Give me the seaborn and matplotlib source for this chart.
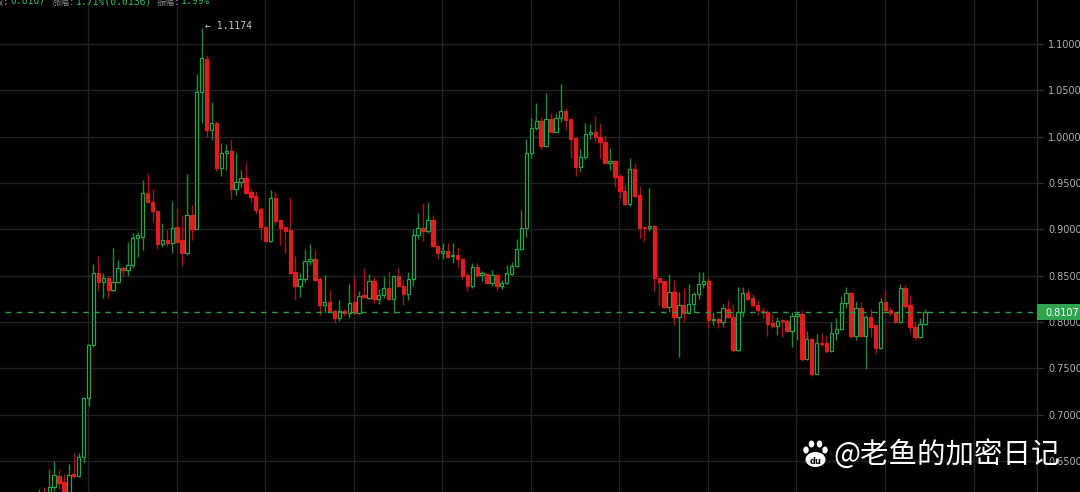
# Candlestick chart recreation (dark trading terminal style)
import numpy as np
import pandas as pd
import matplotlib
matplotlib.use("Agg")
import matplotlib.pyplot as plt
from matplotlib.patches import Rectangle, Ellipse
import seaborn as sns

# OHLC values, one entry per candle (left to right)
open_ = [0.605, 0.615, 0.608, 0.622, 0.634, 0.627, 0.610, 0.636, 0.634, 0.654,
         0.7176, 0.775, 0.8526, 0.843, 0.847, 0.835, 0.8435, 0.858, 0.856, 0.8616,
         0.891, 0.892, 0.939, 0.9296, 0.920, 0.884, 0.8885, 0.885, 0.9025, 0.888,
         0.874, 0.9155, 0.9007, 1.048, 1.0837, 1.0073, 1.0146, 0.9667, 0.983, 0.9848,
         0.9433, 0.951, 0.956, 0.9403, 0.936, 0.922, 0.903, 0.8878, 0.934, 0.910,
         0.9025, 0.899, 0.854, 0.839, 0.846, 0.866, 0.868, 0.846, 0.818, 0.822,
         0.812, 0.8047, 0.8115, 0.8095, 0.822, 0.8095, 0.829, 0.826, 0.8443, 0.8245,
         0.8287, 0.8364, 0.8245, 0.8497, 0.8392, 0.830, 0.8468, 0.8936, 0.9013, 0.8987,
         0.9098, 0.882, 0.8742, 0.877, 0.8712, 0.8722, 0.868, 0.8504, 0.8385, 0.859,
         0.8507, 0.852, 0.8418, 0.8507, 0.8385, 0.842, 0.8518, 0.8608, 0.8784, 0.9011,
         0.9827, 1.009, 1.017, 0.9903, 1.0187, 1.0054, 1.0198, 1.0277, 1.0187, 0.9982,
         0.9676, 0.9777, 1.0025, 1.005, 0.9993, 0.9946, 0.972, 0.9737, 0.9575, 0.9417,
         0.927, 0.9651, 0.937, 0.9025, 0.9011, 0.9036, 0.8478, 0.8442, 0.8165, 0.8327,
         0.8058, 0.8183, 0.8094, 0.819, 0.8299, 0.841, 0.8442, 0.8022, 0.8032, 0.7996,
         0.814, 0.8058, 0.7698, 0.8112, 0.8317, 0.8255, 0.8183, 0.8122, 0.8104, 0.7986,
         0.796, 0.802, 0.8014, 0.7903, 0.8065, 0.8086, 0.760, 0.7813, 0.7439, 0.7777,
         0.777, 0.7687, 0.7878, 0.7921, 0.8201, 0.8317, 0.7849, 0.8147, 0.7849, 0.805,
         0.7968, 0.7723, 0.8219, 0.8126, 0.8101, 0.8004, 0.8363, 0.8183, 0.7942, 0.7835,
         0.7975]
high = [0.620, 0.622, 0.641, 0.650, 0.641, 0.636, 0.647, 0.659, 0.658, 0.719,
        0.776, 0.863, 0.871, 0.853, 0.850, 0.880, 0.867, 0.860, 0.8867, 0.8966,
        0.8975, 0.9535, 0.9606, 0.9433, 0.921, 0.907, 0.899, 0.931, 0.923, 0.915,
        0.9597, 0.926, 1.0675, 1.1174, 1.0885, 1.038, 1.017, 0.9933, 0.9925, 0.998,
        0.982, 0.964, 0.973, 0.944, 0.9406, 0.924, 0.9035, 0.942, 0.940, 0.911,
        0.903, 0.935, 0.871, 0.8525, 0.8785, 0.8845, 0.878, 0.849, 0.8505, 0.835,
        0.8145, 0.8237, 0.8145, 0.841, 0.8505, 0.833, 0.858, 0.852, 0.849, 0.836,
        0.850, 0.8554, 0.8504, 0.859, 0.8453, 0.854, 0.900, 0.918, 0.928, 0.930,
        0.915, 0.8826, 0.8856, 0.885, 0.885, 0.8815, 0.869, 0.8525, 0.8633, 0.864,
        0.855, 0.853, 0.856, 0.851, 0.8453, 0.861, 0.865, 0.8892, 0.9205, 0.9975,
        1.0205, 1.037, 1.021, 1.0478, 1.0259, 1.0252, 1.0568, 1.0313, 1.0205, 1.000,
        0.9867, 1.0144, 1.0133, 1.0227, 1.015, 1.0018, 0.9874, 0.9748, 0.9594, 0.9478,
        0.9773, 0.9712, 0.9471, 0.9029, 0.9442, 0.9047, 0.848, 0.8445, 0.8514, 0.8453,
        0.8327, 0.837, 0.8406, 0.8327, 0.8543, 0.8543, 0.8489, 0.8112, 0.8058, 0.8191,
        0.8234, 0.8191, 0.8381, 0.8374, 0.8356, 0.8306, 0.8227, 0.8165, 0.8129, 0.8083,
        0.8058, 0.8029, 0.8029, 0.8112, 0.8104, 0.8129, 0.7903, 0.7824, 0.7867, 0.7878,
        0.786, 0.7996, 0.8047, 0.8284, 0.8381, 0.8327, 0.8227, 0.8219, 0.8076, 0.8137,
        0.7975, 0.8255, 0.8345, 0.8165, 0.8112, 0.8406, 0.8399, 0.8291, 0.8004, 0.8047,
        0.8137]
low = [0.598, 0.600, 0.603, 0.618, 0.620, 0.600, 0.602, 0.632, 0.633, 0.648,
       0.709, 0.773, 0.833, 0.826, 0.826, 0.833, 0.842, 0.850, 0.850, 0.858,
       0.8706, 0.8776, 0.928, 0.908, 0.8785, 0.8815, 0.8825, 0.874, 0.886, 0.860,
       0.8725, 0.8885, 0.900, 1.0146, 1.000, 0.997, 0.9635, 0.958, 0.964, 0.933,
       0.937, 0.946, 0.939, 0.930, 0.9165, 0.888, 0.8867, 0.8867, 0.905, 0.883,
       0.874, 0.852, 0.824, 0.8275, 0.843, 0.8615, 0.8447, 0.8076, 0.810, 0.8108,
       0.7993, 0.8007, 0.806, 0.804, 0.8077, 0.809, 0.826, 0.8245, 0.820, 0.8197,
       0.826, 0.824, 0.810, 0.838, 0.8183, 0.8237, 0.839, 0.890, 0.8875, 0.8958,
       0.8805, 0.868, 0.868, 0.8698, 0.8633, 0.8597, 0.8464, 0.8332, 0.8368, 0.849,
       0.8443, 0.841, 0.8385, 0.835, 0.836, 0.8405, 0.8507, 0.8597, 0.8777, 0.892,
       0.9766, 1.007, 0.9867, 0.989, 1.0047, 1.0047, 1.0162, 1.0072, 0.9773, 0.958,
       0.9615, 0.9759, 0.9975, 0.9946, 0.9773, 0.9712, 0.964, 0.946, 0.9335, 0.9263,
       0.9255, 0.9352, 0.891, 0.886, 0.8982, 0.8327, 0.8183, 0.8155, 0.8112, 0.7968,
       0.7626, 0.8004, 0.8083, 0.8104, 0.8248, 0.8363, 0.7939, 0.7968, 0.7939, 0.795,
       0.8047, 0.7673, 0.7687, 0.8058, 0.8237, 0.8165, 0.8076, 0.804, 0.7853, 0.7939,
       0.786, 0.7842, 0.7896, 0.7734, 0.7806, 0.7579, 0.759, 0.7421, 0.7435, 0.7734,
       0.7662, 0.768, 0.7806, 0.7914, 0.8147, 0.7831, 0.7806, 0.7842, 0.7493, 0.7842,
       0.7651, 0.7709, 0.8112, 0.8068, 0.7986, 0.7986, 0.8155, 0.7878, 0.7806, 0.7824,
       0.7968]
close = [0.612, 0.608, 0.622, 0.6345, 0.626, 0.610, 0.6345, 0.634, 0.654, 0.7176,
         0.775, 0.8526, 0.8435, 0.847, 0.835, 0.8435, 0.858, 0.856, 0.8616, 0.891,
         0.8936, 0.939, 0.9296, 0.920, 0.884, 0.888, 0.885, 0.902, 0.8867, 0.874,
         0.9155, 0.9007, 1.048, 1.0848, 1.0073, 1.0146, 0.9667, 0.983, 0.9845, 0.9433,
         0.951, 0.956, 0.9396, 0.9353, 0.921, 0.903, 0.8878, 0.934, 0.909, 0.902,
         0.8986, 0.853, 0.839, 0.846, 0.866, 0.868, 0.8454, 0.818, 0.822, 0.812,
         0.8047, 0.812, 0.8095, 0.821, 0.8095, 0.828, 0.8275, 0.8443, 0.8245, 0.8287,
         0.8364, 0.8245, 0.8497, 0.8392, 0.830, 0.8468, 0.8936, 0.9015, 0.8987, 0.9098,
         0.882, 0.8742, 0.877, 0.8705, 0.8722, 0.868, 0.8497, 0.8385, 0.859, 0.8507,
         0.8525, 0.8418, 0.8507, 0.8392, 0.842, 0.8525, 0.8608, 0.8784, 0.9011, 0.9827,
         1.009, 1.017, 0.9903, 1.0187, 1.0054, 1.0198, 1.0277, 1.018, 0.9975, 0.9676,
         0.9777, 1.0025, 1.005, 0.9996, 0.9939, 0.972, 0.9737, 0.9568, 0.9417, 0.927,
         0.9651, 0.9363, 0.9011, 0.9011, 0.9036, 0.8471, 0.8435, 0.8165, 0.8327, 0.8058,
         0.8183, 0.8094, 0.819, 0.8299, 0.841, 0.8446, 0.8022, 0.8032, 0.7996, 0.8147,
         0.8058, 0.7698, 0.8112, 0.8317, 0.8248, 0.8183, 0.813, 0.8104, 0.7975, 0.796,
         0.8014, 0.801, 0.7903, 0.8065, 0.8086, 0.760, 0.7813, 0.7439, 0.777, 0.7759,
         0.7687, 0.7878, 0.7921, 0.8201, 0.8309, 0.7849, 0.8147, 0.7849, 0.805, 0.795,
         0.7723, 0.8219, 0.813, 0.8094, 0.8004, 0.8363, 0.8173, 0.7942, 0.7835, 0.7975,
         0.8107]

yticks = [0.65, 0.70, 0.75, 0.80, 0.85, 0.90, 0.95, 1.00, 1.05, 1.10]
last_price = 0.8107
high_price = 1.1174
high_idx = 33

GREEN = "#27a24a"
GREEN_WICK = "#1f8a3c"
RED = "#dc1e1e"
RED_WICK = "#a31717"
GRID = "#222222"

df = pd.DataFrame({"open": open_, "high": high, "low": low, "close": close})
df["x"] = np.arange(len(df))
df["up"] = df["close"] >= df["open"]

sns.set_theme(style="dark")
plt.rcParams["font.family"] = ["DejaVu Sans", "Noto Sans CJK SC"]

fig = plt.figure(figsize=(10.8, 4.92), dpi=100)
fig.patch.set_facecolor("black")
ax = fig.add_axes([0, 0, 1037 / 1080, 1])
ax.set_facecolor("black")

# wicks
ax.vlines(df["x"], df["low"], df["high"],
          colors=np.where(df["up"], GREEN_WICK, RED_WICK), linewidth=1, zorder=2)

# bodies: green hollow, red filled
bottom = np.minimum(df["open"], df["close"])
height = np.maximum((df["close"] - df["open"]).abs(), 0.0012)
ax.bar(df["x"], height, bottom=bottom, width=0.68,
       color=np.where(df["up"], "black", RED),
       edgecolor=np.where(df["up"], GREEN, RED), linewidth=0.9, zorder=3)

ax.set_xlim(-8.0, 202.8)
ax.set_ylim(0.6164, 1.1477)

# grid
ax.set_xticks(np.arange(9.9, 200, 18))
ax.set_yticks(yticks)
ax.yaxis.set_major_formatter(matplotlib.ticker.FormatStrFormatter("%.4f"))
ax.grid(True, color=GRID, linewidth=1)
ax.set_axisbelow(True)
ax.yaxis.tick_right()
ax.tick_params(axis="x", length=0, labelbottom=False)
ax.tick_params(axis="y", length=5, width=1, color="#2c2c2c", labelcolor="#b0b0b0",
               labelsize=7, pad=3)
for s in ["top", "left", "bottom"]:
    ax.spines[s].set_visible(False)
ax.spines["right"].set_color("#2c2c2c")
ax.spines["right"].set_linewidth(1)

# last price line and tag
ax.axhline(last_price, xmin=5 / 1037, color="#2a9d4a", linewidth=1,
           linestyle=(0, (4, 4)), zorder=4)
fig.add_artist(Rectangle((1037 / 1080, 1 - 320 / 492), 43 / 1080, 16 / 492,
                         transform=fig.transFigure, fc="#2ea44f", ec="none", zorder=5))
fig.text(1045 / 1080, 1 - 312.5 / 492, "%.4f" % last_price, color="white", fontsize=7,
         va="center", ha="left", zorder=6)

# highest price marker
ax.text(high_idx + 0.6, high_price + 0.002, "\u2190 %.4f" % high_price, color="#c8c8c8",
        fontsize=7, family="DejaVu Sans Mono", va="center", ha="left", zorder=6)

# header text (partly cut at the top, as in the screenshot)
mono = ["DejaVu Sans Mono", "Noto Sans CJK SC"]
hy = 1 - 4.5 / 492
fig.text(9 / 1080, hy, "收:", color="#8c8c8c", fontsize=7, family=mono, ha="right", va="baseline")
fig.text(10 / 1080, hy, "0.8107", color="#2fbf5a", fontsize=7, family=mono, va="baseline")
fig.text(75 / 1080, hy, "涨幅:", color="#8c8c8c", fontsize=6.5, family=mono, ha="right", va="baseline")
fig.text(76 / 1080, hy, "1.71%(0.0136)", color="#2fbf5a", fontsize=7, family=mono, va="baseline")
fig.text(180 / 1080, hy, "振幅:", color="#8c8c8c", fontsize=6.5, family=mono, ha="right", va="baseline")
fig.text(181 / 1080, hy, "1.99%", color="#2fbf5a", fontsize=7, family=mono, va="baseline")

# watermark with paw icon
inch = fig.dpi_scale_trans
for cx, cy in [(806, 450), (811.5, 444), (819.5, 444), (825, 450)]:
    fig.add_artist(Ellipse((cx / 100, (492 - cy) / 100), 0.055, 0.07,
                           transform=inch, fc="white", ec="none", zorder=7))
fig.add_artist(Ellipse((815.5 / 100, (492 - 459.5) / 100), 0.2, 0.15,
                       transform=inch, fc="white", ec="none", zorder=7))
fig.text(815.5 / 1080, 1 - 461 / 492, "du", color="black", fontsize=6, fontweight="bold",
         ha="center", va="center", zorder=8)
fig.text(833 / 1080, 1 - 455 / 492, "@老鱼的加密日记", color="white", fontsize=20.5,
         family=["Noto Sans CJK SC", "DejaVu Sans"], ha="left", va="center", zorder=8)

fig.savefig("out.png", dpi=100, facecolor="black")
